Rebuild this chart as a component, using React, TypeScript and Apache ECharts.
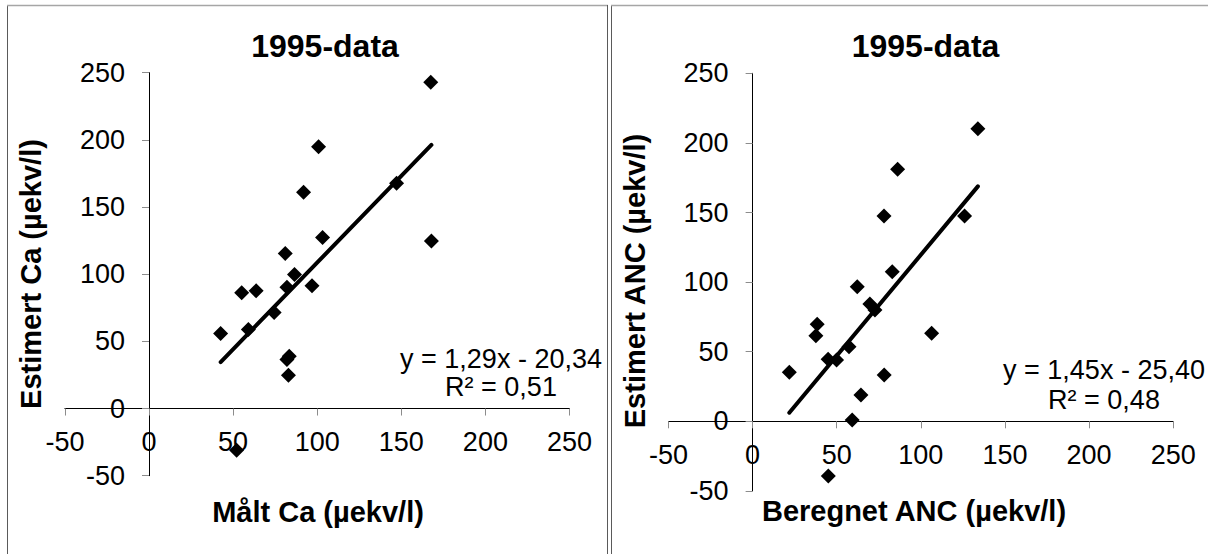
import React, { useEffect, useRef } from "react";
import * as echarts from "echarts";

// ---- Data ----
const axisTicks = [-50, 0, 50, 100, 150, 200, 250];

const caMeasured = [167.5, 100.8, 91.9, 147.2, 103.2, 167.9, 81, 86.5, 82, 96.9, 55.1, 63.7, 74.4, 59.1, 42.6, 83.4, 82, 82.9, 52.1];
const caEstimated = [242.9, 194.9, 161, 167.7, 127.4, 124.7, 115.5, 99.8, 90.2, 91.4, 86.1, 87.6, 71.5, 58.9, 55.9, 39, 36.5, 24.8, -31.1];
const caSlope = 1.29;
const caIntercept = -20.34;
const caEquation = "y = 1,29x - 20,34";
const caR2 = "R² = 0,51";

const ancCalculated = [86.2, 78.1, 126.0, 83.0, 62.2, 69.7, 72.7, 38.4, 37.6, 106.4, 57.3, 44.9, 49.9, 21.8, 78.2, 64.4, 59.2, 133.9, 45];
const ancEstimated = [181.0, 147.5, 147.5, 107.5, 96.7, 84.3, 80.0, 69.7, 61.5, 63.2, 53.6, 44.5, 44.0, 35.2, 33.3, 18.9, 0.9, 210.2, -39.3];
const ancSlope = 1.45;
const ancIntercept = -25.4;
const ancEquation = "y = 1,45x - 25,40";
const ancR2 = "R² = 0,48";

const chartTitle = "1995-data";
const leftXName = "Målt Ca (µekv/l)";
const leftYName = "Estimert Ca (µekv/l)";
const rightXName = "Beregnet ANC (µekv/l)";
const rightYName = "Estimert ANC (µekv/l)";

const FONT = '"Liberation Sans", Arial, Helvetica, sans-serif';

const grids = [
  { left: 64.9, top: 72.7, width: 504.6, height: 403 },
  { left: 668.5, top: 73.3, width: 504.7, height: 417.6 },
];

function pairs(xs: number[], ys: number[]) {
  return xs.map((x, i) => [x, ys[i]]);
}
function trend(xs: number[], a: number, b: number) {
  const lo = Math.min(...xs);
  const hi = Math.max(...xs);
  return [[lo, a * lo + b], [hi, a * hi + b]];
}

function makeAxis(idx: number, isX: boolean) {
  const min = axisTicks[0];
  const max = axisTicks[axisTicks.length - 1];
  const frac = (0 - min) / (max - min);
  const g = grids[idx];
  // shift the axis from the grid edge to the zero position of the other axis
  const offset = isX ? -frac * g.height : -frac * g.width;
  return {
    type: "value",
    gridIndex: idx,
    position: isX ? "bottom" : "left",
    offset,
    min,
    max,
    interval: 50,
    axisLine: { show: true, onZero: false, lineStyle: { color: "#000", width: 1 } },
    axisTick: { show: true, length: 7, lineStyle: { color: "#8c8c8c", width: 1 } },
    splitLine: { show: false },
    axisLabel: {
      fontSize: 27,
      color: "#000",
      fontFamily: FONT,
      margin: isX ? 20 : 24,
    },
  };
}

function text(x: number, y: number, t: string, size: number, bold: boolean, rot = 0) {
  return {
    type: "text",
    x,
    y,
    rotation: rot,
    style: {
      text: t,
      fontSize: size,
      fontWeight: bold ? "bold" : "normal",
      fontFamily: FONT,
      fill: "#000",
      align: "center",
      verticalAlign: "middle",
      textAlign: "center",
      textVerticalAlign: "middle",
    },
  };
}

function vline(x: number, y1: number, y2: number, color: string) {
  return { type: "line", shape: { x1: x, y1, x2: x, y2 }, style: { stroke: color, lineWidth: 1 } };
}
function hline(y: number, x1: number, x2: number, color: string) {
  return { type: "line", shape: { x1, y1: y, x2, y2: y }, style: { stroke: color, lineWidth: 1.5 } };
}

function scatter(idx: number, xs: number[], ys: number[]) {
  return {
    type: "scatter",
    xAxisIndex: idx,
    yAxisIndex: idx,
    symbol: "diamond",
    symbolSize: 15,
    itemStyle: { color: "#000", opacity: 1 },
    data: pairs(xs, ys),
  };
}
function trendLine(idx: number, xs: number[], a: number, b: number) {
  return {
    type: "line",
    xAxisIndex: idx,
    yAxisIndex: idx,
    showSymbol: false,
    symbol: "none",
    lineStyle: { color: "#000", width: 4, cap: "round", opacity: 1 },
    data: trend(xs, a, b),
  };
}

export default function App() {
  const ref = useRef<HTMLDivElement>(null);
  useEffect(() => {
    if (!ref.current) return;
    const chart = echarts.init(ref.current, null, { renderer: "svg" });
    const option = {
      animation: false,
      backgroundColor: "#fff",
      grid: grids,
      xAxis: [makeAxis(0, true), makeAxis(1, true)],
      yAxis: [makeAxis(0, false), makeAxis(1, false)],
      series: [
        scatter(0, caMeasured, caEstimated),
        trendLine(0, caMeasured, caSlope, caIntercept),
        scatter(1, ancCalculated, ancEstimated),
        trendLine(1, ancCalculated, ancSlope, ancIntercept),
      ],
      graphic: [
        vline(7.5, 5, 554, "#5a5a5a"),
        hline(5.5, 7, 608, "#a6a6a6"),
        vline(607.5, 5, 554, "#5a5a5a"),
        vline(611.5, 5, 554, "#5a5a5a"),
        hline(5.5, 611, 1208, "#a6a6a6"),
        text(325, 46, chartTitle, 32, true),
        text(925.5, 46, chartTitle, 32, true),
        text(318, 512, leftXName, 29, true),
        text(914, 511, rightXName, 29, true),
        text(31, 274, leftYName, 29, true, Math.PI / 2),
        text(635, 281, rightYName, 29, true, Math.PI / 2),
        text(501, 358.6, caEquation, 27, false),
        text(501, 387, caR2, 27, false),
        text(1104, 370, ancEquation, 27, false),
        text(1104, 400, ancR2, 27, false),
      ],
    };
    chart.setOption(option as any);
    return () => chart.dispose();
  }, []);
  return (
    <div
      ref={ref}
      style={{ position: "absolute", left: 0, top: 0, width: 1208, height: 554, background: "#fff" }}
    />
  );
}
